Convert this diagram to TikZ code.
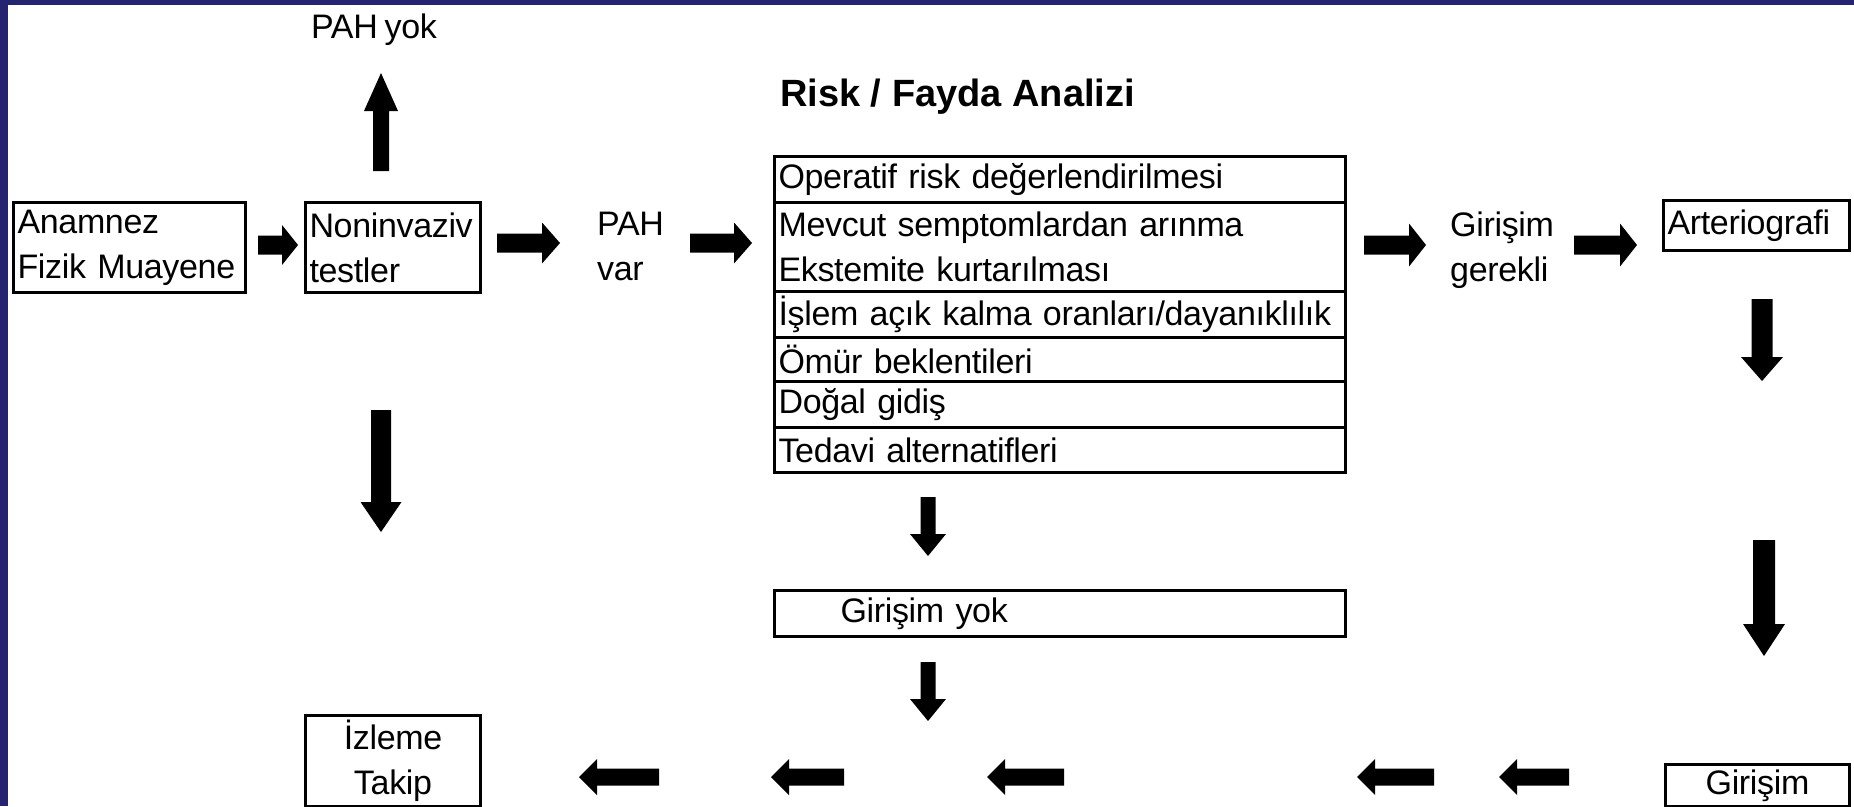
\documentclass[tikz,border=0pt]{standalone}
\usepackage{fontspec}
\setmainfont{Liberation Sans}[LetterSpace=-1,WordSpace=0.75]
\newfontfamily\titlefont{Liberation Sans}
\definecolor{band}{RGB}{36,36,112}
\newcommand\blockH[6]{% tail x, tip x, y, shaft, head width, head length
  \pgfmathsetmacro\hb{#2-#6*sign(#2-#1)}%
  \fill (#1,{#3-#4/2}) -- (\hb,{#3-#4/2}) -- (\hb,{#3-#5/2}) -- (#2,#3) -- (\hb,{#3+#5/2}) -- (\hb,{#3+#4/2}) -- (#1,{#3+#4/2}) -- cycle;}
\newcommand\blockV[6]{% x, tail y, tip y, shaft, head width, head length
  \pgfmathsetmacro\hb{#3-#6*sign(#3-#2)}%
  \fill ({#1-#4/2},#2) -- ({#1-#4/2},\hb) -- ({#1-#5/2},\hb) -- (#1,#3) -- ({#1+#5/2},\hb) -- ({#1+#4/2},\hb) -- ({#1+#4/2},#2) -- cycle;}
\tikzset{
  txt/.style={font=\fontsize{34}{45}\selectfont},
  bx/.style={draw, line width=3pt, anchor=north west, inner xsep=4pt, inner ysep=0pt, txt, align=left},
  cbx/.style={draw, line width=3pt, anchor=north west, inner xsep=4pt, inner ysep=0pt, txt, align=center},
  free/.style={txt, align=left, inner sep=0pt, anchor=west},
}
\begin{document}
\begin{tikzpicture}[x=1pt,y=-1pt]
\useasboundingbox (0,0) rectangle (1854,806);
\fill[white] (0,0) rectangle (1854,806);
\fill[band] (0,0) rectangle (1854,5);
\fill[band] (0,0) rectangle (8,806);

% boxes
\node[bx, minimum width=232, minimum height=90, text width=224] (anam) at (12,201) {Anamnez\\Fizik Muayene};
\node[bx, minimum width=175, minimum height=90, text width=167] (nonin) at (304,201) {\mbox{Noninvaziv}\\testler};

\node[bx, minimum width=571, minimum height=46, text width=563] (r1) at (773,155) {Operatif risk değerlendirilmesi};
\node[bx, minimum width=571, minimum height=89, text width=563] (r2) at (773,201) {Mevcut semptomlardan arınma\\Ekstemite kurtarılması};
\node[bx, minimum width=571, minimum height=46, text width=563] (r3) at (773,290) {\mbox{İşlem açık kalma oranları/dayanıklılık}};
\node[bx, minimum width=571, minimum height=44, text width=563] (r4) at (773,336) {Ömür beklentileri};
\node[bx, minimum width=571, minimum height=46, text width=563] (r5) at (773,380) {Doğal gidiş};
\node[bx, minimum width=571, minimum height=45, text width=563] (r6) at (773,426) {Tedavi alternatifleri};

\node[bx, minimum width=571, minimum height=46, text width=563] (yok) at (773,589) {\hspace*{62pt}Girişim yok};
\node[bx, minimum width=186, minimum height=50, text width=178] (arter) at (1662,199) {Arteriografi};
\node[cbx, minimum width=184, minimum height=42, text width=176] (giris) at (1664,763) {Girişim};
\node[cbx, minimum width=175, minimum height=91, text width=167] (izle) at (304,714) {İzleme\\Takip};

% free texts
\node[txt, inner sep=0pt] (pahyok) at (374,30) {PAH yok};
\node[free] (pahvar) at (597,246) {PAH\\var};
\node[free] (gerekli) at (1450,250) {Girişim\\gerekli};
\node[font=\fontsize{38}{45}\selectfont\titlefont\bfseries, inner sep=0pt, anchor=west] (title) at (780,97) {Risk / Fayda Analizi};

% arrows
\blockH{258}{298}{245}{19}{40}{16}
\blockH{497}{560}{243}{19}{41}{18}
\blockH{690}{752}{243}{19}{41}{18}
\blockH{1364}{1426}{245}{19}{43}{17}
\blockH{1574}{1637}{245}{19}{43}{17}
\blockV{381}{171}{73}{16}{34}{38}
\blockV{381}{410}{532}{20}{41}{30}
\blockV{928}{497}{556}{15}{36}{22}
\blockV{928}{662}{721}{15}{36}{22}
\blockV{1762}{299}{381}{21}{42}{24}
\blockV{1764}{540}{656}{22}{42}{32}
\blockH{659}{579}{777}{17}{36}{18}
\blockH{844}{771}{777}{17}{36}{18}
\blockH{1064}{987}{777}{17}{36}{18}
\blockH{1434}{1357}{777}{17}{36}{18}
\blockH{1569}{1499}{777}{17}{36}{18}
\end{tikzpicture}
\end{document}
